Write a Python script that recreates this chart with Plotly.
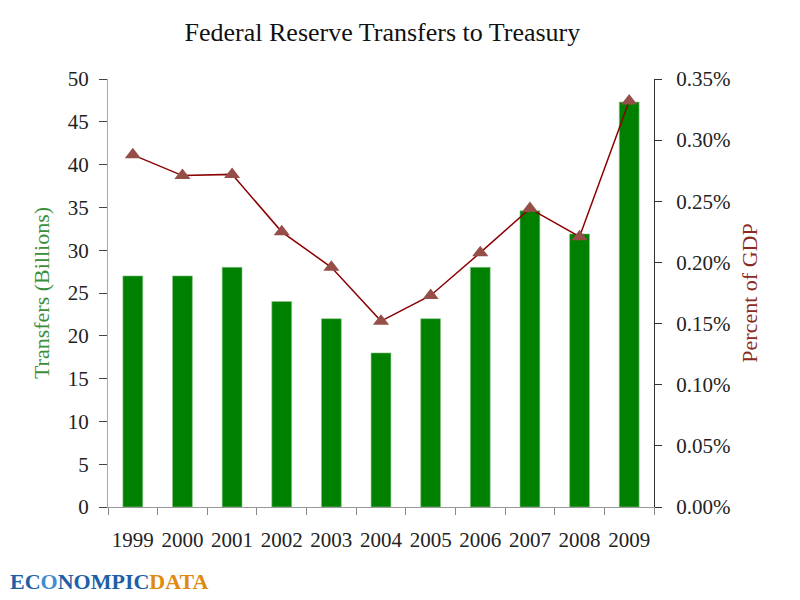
import plotly.graph_objects as go

# Fed transfers to Treasury
years = ["1999", "2000", "2001", "2002", "2003", "2004",
         "2005", "2006", "2007", "2008", "2009"]
transfers_bn = [27, 27, 28, 24, 22, 18, 22, 28, 34.6, 31.9, 47.3]
pct_gdp = [0.288, 0.271, 0.272, 0.225, 0.196, 0.152,
           0.173, 0.208, 0.244, 0.221, 0.332]

left_ticks = list(range(0, 55, 5))
right_ticks = [0, 0.05, 0.10, 0.15, 0.20, 0.25, 0.30, 0.35]
right_labels = [f"{v:.2f}%" for v in right_ticks]

serif = "Liberation Serif"

fig = go.Figure()

fig.add_trace(go.Bar(
    x=years, y=transfers_bn,
    marker=dict(color="#008000", line=dict(color="#8fc48f", width=0.6)),
    width=0.4,
    name="Transfers",
))

fig.add_trace(go.Scatter(
    x=years, y=pct_gdp, yaxis="y2",
    mode="lines+markers",
    line=dict(color="#8b0000", width=1.5),
    marker=dict(symbol="triangle-up", size=14, color="#954f48"),
    name="Percent of GDP",
))

# page body adds ~8px offset, margins are compensated for that
fig.update_layout(
    width=800, height=600,
    paper_bgcolor="white", plot_bgcolor="white",
    margin=dict(l=100, r=154, t=71, b=101, autoexpand=False),
    showlegend=False,
    font=dict(family=serif, size=20, color="#222"),
    title=dict(text="Federal Reserve Transfers to Treasury",
               x=0.468, xanchor="center", y=0.96, yanchor="middle",
               font=dict(family=serif, size=26, color="#111")),
    xaxis=dict(
        type="category",
        range=[-0.5, len(years) - 0.5],
        showline=True, linecolor="#999", linewidth=1,
        ticks="outside", ticklen=7, tickcolor="#888",
        tickson="boundaries",
        tickangle=0,
        ticklabelstandoff=14,
        showgrid=False,
        tickfont=dict(family=serif, size=21, color="#222"),
    ),
    yaxis=dict(
        range=[0, 50], tickvals=left_ticks,
        showline=True, linecolor="#aaa", linewidth=1,
        ticks="outside", ticklen=8, tickcolor="#444",
        ticklabelstandoff=6,
        showgrid=False, zeroline=False,
        tickfont=dict(family=serif, size=21, color="#222"),
        title=dict(text="Transfers (Billions)", standoff=12,
                   font=dict(family=serif, size=22, color="#3a8f3a")),
    ),
    yaxis2=dict(
        overlaying="y", side="right",
        range=[0, 0.35], tickvals=right_ticks, ticktext=right_labels,
        showline=True, linecolor="#333", linewidth=1,
        ticks="outside", ticklen=7, tickcolor="#333",
        ticklabelstandoff=10,
        showgrid=False, zeroline=False,
        tickfont=dict(family=serif, size=21, color="#222"),
        title=dict(text="Percent of GDP", standoff=12,
                   font=dict(family=serif, size=22, color="#8b2a22")),
    ),
)

# site logo text in the bottom left corner
fig.add_annotation(
    xref="paper", yref="paper", x=-0.183, y=-0.14,
    xanchor="left", yanchor="top", showarrow=False,
    text="<b><span style='color:#1f5fa8'>EC</span>"
         "<span style='color:#3f8fd0'>O</span>"
         "<span style='color:#1f5fa8'>NOMPIC</span>"
         "<span style='color:#e08a10'>DATA</span></b>",
    font=dict(family="Liberation Serif", size=22),
)

fig.write_html("out.html")
